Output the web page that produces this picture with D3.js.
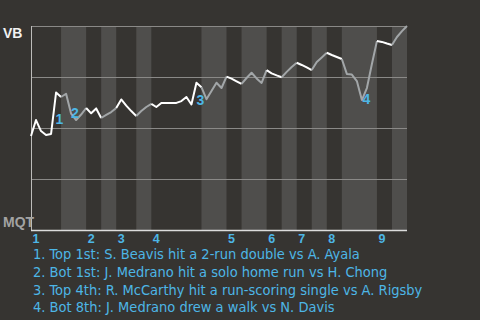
<!DOCTYPE html>
<html>
<head>
<meta charset="utf-8">
<script src="https://cdn.jsdelivr.net/npm/d3@7"></script>
<style>
  html, body { margin: 0; padding: 0; background: #363431; }
  svg { display: block; }
</style>
</head>
<body>
<svg id="chart" width="480" height="320"></svg>
<script>
// ---- data ----
const awayTeam = "VB";
const homeTeam = "MQT";
// win probability for VB after each plate appearance (index 0 = start)
const winProb = [
  0.461, 0.539, 0.485, 0.466, 0.471, 0.674, 0.652, 0.668, 0.570, 0.539,
  0.566, 0.598, 0.572, 0.596, 0.549, 0.564, 0.578, 0.598, 0.640, 0.610,
  0.583, 0.559, 0.583, 0.603, 0.618, 0.603, 0.623, 0.623, 0.623, 0.623,
  0.632, 0.652, 0.615, 0.722, 0.700, 0.641, 0.681, 0.722, 0.696, 0.752,
  0.742, 0.729, 0.716, 0.745, 0.771, 0.743, 0.721, 0.784, 0.768, 0.758,
  0.749, 0.775, 0.799, 0.820, 0.809, 0.797, 0.784, 0.824, 0.846, 0.869,
  0.858, 0.848, 0.838, 0.765, 0.762, 0.730, 0.637, 0.696, 0.814, 0.926,
  0.922, 0.914, 0.907, 0.946, 0.975, 1.000
];
// plate appearances in each half inning (top 1st, bot 1st, top 2nd, ...)
const halfInningPAs = [6, 5, 3, 3, 4, 3, 10, 5, 3, 5, 3, 3, 3, 3, 3, 7, 3, 3];
const inningLabels = ["1", "2", "3", "4", "5", "6", "7", "8", "9"];
const yTicks = [0, 0.25, 0.5, 0.75, 1];
// key plays: the plate appearance index where each one ends
const keyPlayIdx = [5, 8, 33, 66];
const keyPlayText = [
  "1. Top 1st: S. Beavis hit a 2-run double vs A. Ayala",
  "2. Bot 1st: J. Medrano hit a solo home run vs H. Chong",
  "3. Top 4th: R. McCarthy hit a run-scoring single vs A. Rigsby",
  "4. Bot 8th: J. Medrano drew a walk vs N. Davis"
];

// ---- style / layout ----
const M = { left: 31, right: 407, top: 26, bottom: 230 };
const C = {
  bg: "#363431", band: "#4f4e4c", grid: "#8a8987", axisL: "#bdbcba", axisB: "#dcdcdc",
  top: "#ffffff", bot: "#a2a6a8", blue: "#4db6e6", teamHi: "#f2f2f2", teamLo: "#a3a3a3"
};
const labelOffsets = [[-0.5, 31], [0, 4], [0, 22], [0.5, 4]];

const svg = d3.select("#chart");
svg.append("rect").attr("width", 480).attr("height", 320).attr("fill", C.bg);

const totalPA = d3.sum(halfInningPAs);
const x = d3.scaleLinear().domain([0, totalPA]).range([M.left, M.right]);
const y = d3.scaleLinear().domain([0, 1]).range([M.bottom, M.top]);

const bounds = [0];
halfInningPAs.forEach(n => bounds.push(bounds[bounds.length - 1] + n));

// bands for bottom halves
const halves = halfInningPAs.map((n, k) => ({ k, s: bounds[k], e: bounds[k + 1] }));
svg.append("g").selectAll("rect").data(halves.filter(h => h.k % 2 === 1)).join("rect")
  .attr("x", d => x(d.s)).attr("width", d => x(d.e) - x(d.s))
  .attr("y", M.top).attr("height", M.bottom - M.top)
  .attr("fill", C.band);

// grid lines
svg.append("g").selectAll("line").data(yTicks.filter(t => t > 0)).join("line")
  .attr("x1", M.left).attr("x2", M.right)
  .attr("y1", d => Math.round(y(d)) + 0.5).attr("y2", d => Math.round(y(d)) + 0.5)
  .attr("stroke", C.grid).attr("stroke-width", 1);

// axes lines
svg.append("line").attr("x1", M.left + 0.5).attr("x2", M.left + 0.5)
  .attr("y1", M.top).attr("y2", M.bottom).attr("stroke", C.axisL);
svg.append("line").attr("x1", M.left).attr("x2", M.right)
  .attr("y1", M.bottom + 0.5).attr("y2", M.bottom + 0.5).attr("stroke", C.axisB).attr("stroke-width", 1.5);

// win probability line, coloured per half inning
const line = d3.line().x(i => x(i)).y(i => y(winProb[i]));
svg.append("g").selectAll("path").data(halves).join("path")
  .attr("d", d => line(d3.range(d.s, d.e + 1)))
  .attr("fill", "none")
  .attr("stroke", d => d.k % 2 === 0 ? C.top : C.bot)
  .attr("stroke-width", 2)
  .attr("stroke-linejoin", "round");

// key play markers
svg.append("g").selectAll("text").data(keyPlayIdx).join("text")
  .attr("x", (d, j) => x(d) + labelOffsets[j][0])
  .attr("y", (d, j) => y(winProb[d]) + labelOffsets[j][1])
  .attr("text-anchor", "start")
  .attr("font-family", "'Liberation Sans Narrow', 'Liberation Sans', sans-serif")
  .attr("font-weight", "bold").attr("font-size", 14)
  .attr("fill", C.blue)
  .text((d, j) => j + 1);

// team labels
const teamFont = "'Liberation Sans Narrow', 'Liberation Sans', sans-serif";
svg.append("text").attr("x", 3).attr("y", y(1) + 11.5).text(awayTeam)
  .attr("font-family", teamFont).attr("font-weight", "bold").attr("font-size", 14)
  .attr("fill", C.teamHi);
svg.append("text").attr("x", 3).attr("y", y(0) - 3.5).text(homeTeam)
  .attr("font-family", teamFont).attr("font-weight", "bold").attr("font-size", 14)
  .attr("fill", C.teamLo);

// inning labels
svg.append("g").selectAll("text").data(inningLabels).join("text")
  .attr("x", (d, i) => x(bounds[i * 2]) + 1.5)
  .attr("y", M.bottom + 13)
  .attr("font-family", "'Liberation Sans', sans-serif")
  .attr("font-weight", "bold").attr("font-size", 12.5)
  .attr("fill", C.blue)
  .text(d => d);

// key play descriptions
svg.append("g").selectAll("text").data(keyPlayText).join("text")
  .attr("x", 33)
  .attr("y", (d, i) => 259.3 + i * 17.6)
  .attr("font-family", "'Liberation Sans Narrow', 'DejaVu Sans Condensed', sans-serif")
  .attr("font-size", 14.5)
  .attr("fill", C.blue)
  .text(d => d);
</script>
</body>
</html>
